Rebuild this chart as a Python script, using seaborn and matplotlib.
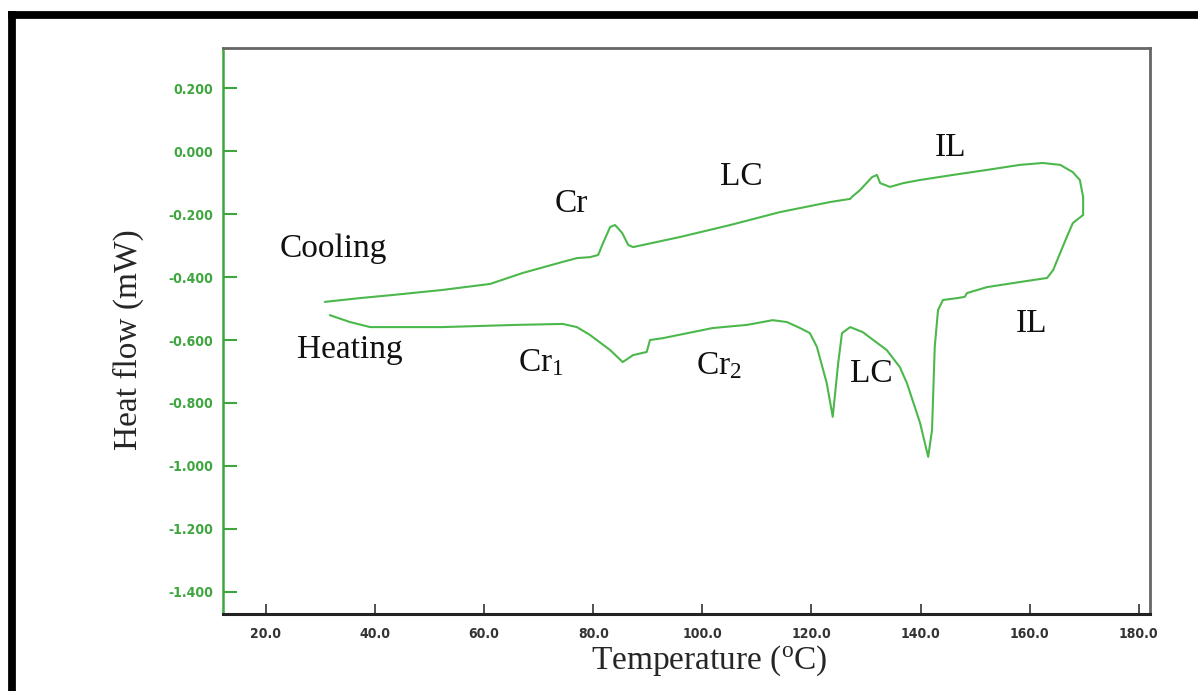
import matplotlib
matplotlib.use("Agg")
import matplotlib.pyplot as plt
from matplotlib.lines import Line2D
from matplotlib import font_manager
import numpy as np
import pandas as pd
import seaborn as sns

# DSC trace: heating run (low -> high temperature), then cooling run back down
heat_temp = [31.7, 35.4, 39.1, 52.4, 66.0, 74.4, 77.0, 79.4, 83.1, 85.4, 87.3, 89.8,
             90.4, 92.8, 101.9, 108.2, 112.9, 115.5, 117.9, 119.7, 121.0, 122.8,
             123.9, 124.9, 125.6, 127.1, 129.4, 133.8, 136.2, 137.5, 139.9, 141.4,
             142.1, 142.6, 143.2, 144.1, 146.7, 148.1, 148.5, 152.2, 158.2, 163.2,
             164.3, 166.8, 167.9, 169.8]
heat_flow = [-0.521, -0.543, -0.559, -0.559, -0.552, -0.549, -0.559, -0.584, -0.632,
             -0.670, -0.648, -0.638, -0.600, -0.594, -0.562, -0.552, -0.537, -0.543,
             -0.562, -0.578, -0.622, -0.737, -0.844, -0.673, -0.578, -0.559, -0.575,
             -0.632, -0.686, -0.737, -0.863, -0.971, -0.886, -0.622, -0.505, -0.473,
             -0.467, -0.463, -0.451, -0.432, -0.416, -0.403, -0.378, -0.273, -0.229,
             -0.203]

cool_temp = [169.8, 169.8, 169.2, 167.9, 165.6, 162.4, 158.2, 152.2, 145.9, 139.9,
             136.8, 134.4, 132.6, 132.0, 131.1, 128.9, 127.4, 127.1, 123.4, 114.2,
             105.1, 95.9, 87.3, 86.4, 85.3, 84.0, 83.1, 81.8, 80.9, 79.4, 77.0, 74.4,
             67.1, 61.1, 52.4, 43.3, 37.2, 30.8]
cool_flow = [-0.203, -0.146, -0.092, -0.067, -0.044, -0.038, -0.044, -0.060, -0.076,
             -0.092, -0.102, -0.114, -0.102, -0.076, -0.083, -0.124, -0.146, -0.152,
             -0.162, -0.194, -0.235, -0.273, -0.305, -0.298, -0.260, -0.235, -0.241,
             -0.292, -0.330, -0.337, -0.340, -0.352, -0.387, -0.422, -0.441, -0.457,
             -0.467, -0.479]

x_ticks = [20.0, 40.0, 60.0, 80.0, 100.0, 120.0, 140.0, 160.0, 180.0]
y_ticks = [0.2, 0.0, -0.2, -0.4, -0.6, -0.8, -1.0, -1.2, -1.4]

# phase labels
phase_labels = ["Cooling", "Heating", "Cr", "LC", "IL",
                r"Cr$_{\mathrm{1}}$", r"Cr$_{\mathrm{2}}$", "LC", "IL"]

sns.set_style("white")
plt.rcParams["font.family"] = ["Liberation Serif", "DejaVu Serif"]
plt.rcParams["mathtext.fontset"] = "custom"
plt.rcParams["mathtext.rm"] = "Liberation Serif"
plt.rcParams["mathtext.it"] = "Liberation Serif:italic"

LINE = "#4cb84c"
AXGREEN = "#3fa63f"

# narrow face for the instrument-style tick numbers
installed = {f.name for f in font_manager.fontManager.ttflist}
narrow = "Liberation Sans Narrow" if "Liberation Sans Narrow" in installed else "DejaVu Sans"

fig = plt.figure(figsize=(11.98, 6.91), dpi=100)
ax = fig.add_axes([0.1861, 0.1114, 0.9599 - 0.1861, 0.9305 - 0.1114])

df_heat = pd.DataFrame({"T": heat_temp, "Q": heat_flow})
df_cool = pd.DataFrame({"T": cool_temp, "Q": cool_flow})
sns.lineplot(data=df_heat, x="T", y="Q", sort=False, estimator=None, ax=ax,
             color=LINE, linewidth=1.5)
sns.lineplot(data=df_cool, x="T", y="Q", sort=False, estimator=None, ax=ax,
             color=LINE, linewidth=1.5)

ax.set_xlim(12.12, 182.05)
ax.set_ylim(-1.470, 0.327)

tick_font = dict(family=narrow, stretch="condensed", weight="bold", size=10)
ax.set_xticks(x_ticks)
ax.set_xticklabels([f"{t:.1f}" for t in x_ticks], fontdict=tick_font, color="#333333")
ax.set_yticks(y_ticks)
ax.set_yticklabels([f"{t:.3f}".replace("-0.000", "0.000") for t in y_ticks],
                   fontdict=tick_font, color=AXGREEN)

ax.tick_params(axis="x", direction="in", length=7, width=1.2, color="#333333", pad=9,
               bottom=True)
ax.tick_params(axis="y", direction="in", length=10, width=1.5, color=AXGREEN, pad=7,
               left=True)

for side, col, lw in [("left", AXGREEN, 1.8), ("bottom", "#222222", 2.2),
                      ("top", "#666666", 2.0), ("right", "#666666", 2.0)]:
    ax.spines[side].set_visible(True)
    ax.spines[side].set_color(col)
    ax.spines[side].set_linewidth(lw)

ax.set_xlabel(r"Temperature ($^{\mathrm{o}}$C)", fontsize=24, va="center")
ax.xaxis.set_label_coords(0.525, -0.083)
ax.set_ylabel("Heat flow (mW)", fontsize=24, va="center")
ax.yaxis.set_label_coords(-0.1025, 0.484)

label_pos = [(22.57, -0.3365), (25.68, -0.657), (72.98, -0.194), (103.2, -0.108),
             (142.6, -0.016), (66.2, -0.698), (98.8, -0.708), (127.1, -0.733),
             (157.5, -0.575)]
for text, (tx, ty) in zip(phase_labels, label_pos):
    ax.text(tx, ty, text, fontsize=24, ha="left", va="baseline", color="#111111")

# heavy frame along the top and left edges of the figure
W, H = 1198, 691
fig.add_artist(Line2D([8 / W, 1.0], [1 - 14.5 / H, 1 - 14.5 / H],
                      transform=fig.transFigure, color="black", linewidth=5.6,
                      solid_capstyle="butt"))
fig.add_artist(Line2D([11.5 / W, 11.5 / W], [1 - 11 / H, 0.0],
                      transform=fig.transFigure, color="black", linewidth=5.6,
                      solid_capstyle="butt"))

fig.savefig("out.png", dpi=100)
